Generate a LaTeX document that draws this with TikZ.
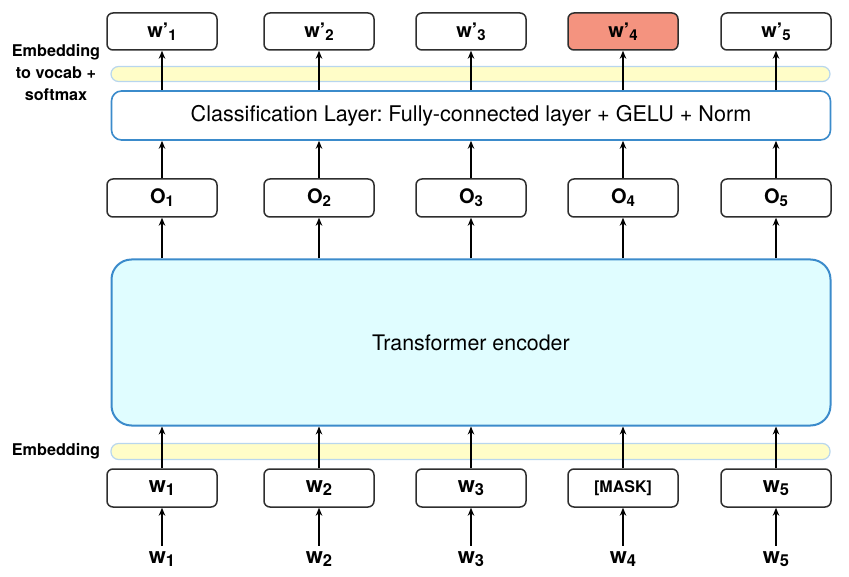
\documentclass[tikz,border=0pt]{standalone}
\usepackage{fontspec}
\usepackage{graphicx}
\setmainfont{TeX Gyre Heros}
\usetikzlibrary{arrows.meta}
\definecolor{encfill}{HTML}{E0FDFF}
\definecolor{encdraw}{HTML}{3B8BCB}
\definecolor{bandfill}{HTML}{FFFDC8}
\definecolor{banddraw}{HTML}{B8D6EE}
\definecolor{maskred}{HTML}{F4937F}
\definecolor{boxdraw}{HTML}{2E2E2E}
\newcommand\lo[1]{\raisebox{-0.15em}{\scalebox{0.75}{#1}}}
\frenchspacing
\begin{document}
\begin{tikzpicture}[x=1pt,y=-1pt,
  tok/.style={draw=boxdraw, line width=1.5pt, rounded corners=6pt, minimum width=110pt,
    minimum height=37pt, inner sep=0pt, fill=white},
  topfont/.style={font=\fontsize{20}{23}\selectfont\bfseries},
  botfont/.style={font=\fontsize{22}{25}\selectfont\bfseries},
  band/.style={draw=banddraw, line width=1.2pt, fill=bandfill, rounded corners=7.5pt,
    minimum width=719pt, minimum height=15pt, inner sep=0pt},
  wide/.style={draw=encdraw, line width=1.6pt, fill=white, rounded corners=10pt,
    minimum width=719pt, minimum height=49pt, inner sep=0pt,
    font=\fontsize{21.6}{24}\selectfont},
  enc/.style={draw=encdraw, line width=2pt, fill=encfill, rounded corners=20pt,
    minimum width=719pt, minimum height=166pt, inner sep=0pt,
    font=\fontsize{21.4}{24}\selectfont},
  side/.style={font=\fontsize{16.2}{22}\selectfont\bfseries, align=center, inner sep=0pt},
  arr/.style={line width=1.2pt, -{Stealth[length=8pt,width=6.5pt]}},
]
\useasboundingbox (0,0) rectangle (849,577);

% bands
\node[band] (bandtop) at (470.5,74) {};
\node[band, minimum height=16pt] (bandbot) at (470.5,451.5) {};

% classification layer and encoder
\node[wide] (cls) at (471,115.5) {Classification Layer: Fully-connected layer + GELU + Norm};
\node[enc] (enc) at (471,342.5) {Transformer encoder};

% top output tokens
\node[tok, topfont] (wp1) at (162,31.5) {w’\lo{1}};
\node[tok, topfont] (wp2) at (319,31.5) {w’\lo{2}};
\node[tok, topfont] (wp3) at (471,31.5) {w’\lo{3}};
\node[tok, topfont, fill=maskred] (wp4) at (623,31.5) {w’\lo{4}};
\node[tok, topfont] (wp5) at (776,31.5) {w’\lo{5}};

% O boxes
\node[tok, topfont, minimum height=38pt] (o1) at (162,198) {O\lo{1}};
\node[tok, topfont, minimum height=38pt] (o2) at (319,198) {O\lo{2}};
\node[tok, topfont, minimum height=38pt] (o3) at (471,198) {O\lo{3}};
\node[tok, topfont, minimum height=38pt] (o4) at (623,198) {O\lo{4}};
\node[tok, topfont, minimum height=38pt] (o5) at (776,198) {O\lo{5}};

% input token boxes
\node[tok, botfont, minimum height=38pt] (b1) at (162,488) {w\lo{1}};
\node[tok, botfont, minimum height=38pt] (b2) at (319,488) {w\lo{2}};
\node[tok, botfont, minimum height=38pt] (b3) at (471,488) {w\lo{3}};
\node[tok, minimum height=38pt, font=\fontsize{16}{18}\selectfont\bfseries] (b4) at (623,488) {[MASK]};
\node[tok, botfont, minimum height=38pt] (b5) at (776,488) {w\lo{5}};

% input words
\node[botfont, inner sep=0pt, anchor=base] (in1) at (162,563) {w\lo{1}};
\node[botfont, inner sep=0pt, anchor=base] (in2) at (319,563) {w\lo{2}};
\node[botfont, inner sep=0pt, anchor=base] (in3) at (471,563) {w\lo{3}};
\node[botfont, inner sep=0pt, anchor=base] (in4) at (623,563) {w\lo{4}};
\node[botfont, inner sep=0pt, anchor=base] (in5) at (776,563) {w\lo{5}};

% side labels
\node[side] (lbltop) at (56,73) {Embedding\\to vocab +\\softmax};
\node[side] (lblbot) at (56,451) {Embedding};

% arrows
\foreach \i in {1,...,5} {
  \draw[arr] (cls.north -| wp\i.south) -- (wp\i.south);
  \draw[arr] (o\i.north) -- (cls.south -| o\i.north);
  \draw[arr] (enc.north -| o\i.south) -- (o\i.south);
  \draw[arr] (b\i.north) -- (enc.south -| b\i.north);
  \draw[arr, shorten <=5pt] (in\i.north -| b\i.south) -- (b\i.south);
}
\end{tikzpicture}
\end{document}
